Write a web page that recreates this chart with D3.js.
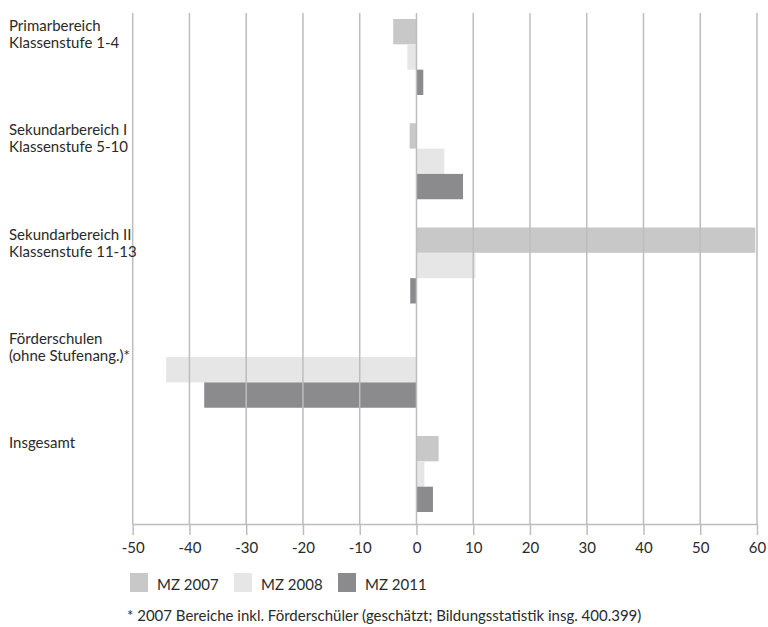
<!DOCTYPE html>
<html><head><meta charset="utf-8">
<script src="https://cdn.jsdelivr.net/npm/d3@7"></script>
<style>
html,body{margin:0;padding:0;background:#fff;}
svg{display:block;font-family:Lato,"Open Sans",sans-serif;}
</style></head>
<body><svg id="chart" width="768" height="627"></svg>
<script>
const categories = [
  ["Primarbereich","Klassenstufe 1-4"],
  ["Sekundarbereich I","Klassenstufe 5-10"],
  ["Sekundarbereich II","Klassenstufe 11-13"],
  ["Förderschulen","(ohne Stufenang.)*"],
  ["Insgesamt"]
];
const seriesNames = ["MZ 2007","MZ 2008","MZ 2011"];
const mz2007 = [-4.1, -1.2, 59.7, 0, 3.9];
const mz2008 = [-1.6, 4.9, 10.4, -44.1, 1.4];
const mz2011 = [1.2, 8.2, -1.1, -37.4, 2.9];
const tickValues = [-50,-40,-30,-20,-10,0,10,20,30,40,50,60];
const footnote = "* 2007 Bereiche inkl. Förderschüler (geschätzt; Bildungsstatistik insg. 400.399)";
const colors = ["#c8c8c8","#e6e6e6","#8b8b8d"];

const series = [mz2007, mz2008, mz2011];
const svg = d3.select("#chart");
const x = d3.scaleLinear().domain([-50,60]).range([132.7,757]);
const catIdx = categories.map((c,i)=>i);
const y = d3.scaleBand().domain(catIdx).range([19,512]).paddingInner(0.271).paddingOuter(0);
const ySub = d3.scaleBand().domain([0,1,2]).range([0,y.bandwidth()]);
const FS = 15;
const TXT = "#2a2a2a";

// bars
const g = svg.append("g");
series.forEach((vals,si)=>{
  g.selectAll(null).data(vals).enter().append("rect")
    .attr("x", d=>x(Math.min(0,d)))
    .attr("width", d=>Math.abs(x(d)-x(0)))
    .attr("y", (d,i)=>y(i)+ySub(si))
    .attr("height", ySub.bandwidth())
    .attr("fill", colors[si]);
});

// gridlines on top
svg.append("g").selectAll("line").data(tickValues).enter().append("line")
  .attr("x1", d=>x(d)).attr("x2", d=>x(d))
  .attr("y1", 13).attr("y2", 524)
  .attr("stroke", "#bdbdbd").attr("stroke-width", 1.5);

// axis
const axis = d3.axisBottom(x).tickValues(tickValues).tickSize(11).tickSizeOuter(0)
  .tickFormat(d=>String(d));
const ax = svg.append("g").attr("transform","translate(0,524)").call(axis);
ax.select(".domain").attr("stroke","#bdbdbd").attr("stroke-width",1.5);
ax.selectAll(".tick line").attr("stroke","#bdbdbd").attr("stroke-width",1.5);
ax.selectAll(".tick text").attr("fill",TXT).attr("font-size",FS)
  .attr("font-family","Lato,'Open Sans',sans-serif").attr("y",18).attr("dy","0.71em");

// category labels
categories.forEach((lines,i)=>{
  const t = svg.append("text").attr("x",9).attr("y",y(i)+12)
    .attr("fill",TXT).attr("font-size",FS);
  lines.forEach((ln,j)=>{
    t.append("tspan").attr("x",9).attr("dy", j===0?0:17).text(ln);
  });
});

// legend
const lg = svg.append("g");
seriesNames.forEach((n,i)=>{
  const lx = 130 + i*104;
  lg.append("rect").attr("x",lx).attr("y",573).attr("width",18).attr("height",19).attr("fill",colors[i]);
  lg.append("text").attr("x",lx+27).attr("y",590).attr("fill",TXT).attr("font-size",FS).text(n);
});

svg.append("text").attr("x",127).attr("y",621).attr("fill",TXT).attr("font-size",FS).text(footnote);
</script></body></html>
